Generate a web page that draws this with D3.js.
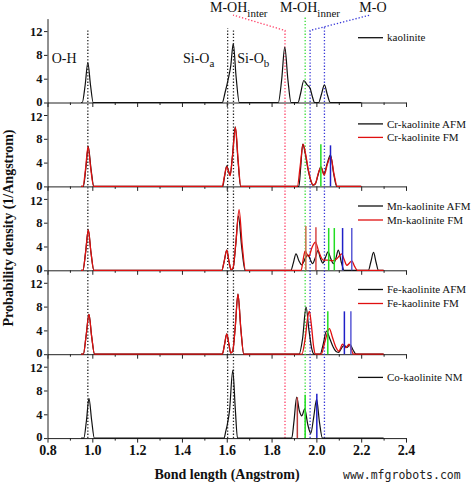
<!DOCTYPE html>
<html><head><meta charset="utf-8">
<script src="https://cdn.jsdelivr.net/npm/d3@7/dist/d3.min.js"></script>
<style>body{margin:0;background:#fff}svg{display:block}</style>
</head><body><svg id="chart" width="472" height="485"></svg>
<script>
// ---------- DATA ----------
const xTickValues = [0.8, 1.0, 1.2, 1.4, 1.6, 1.8, 2.0, 2.2, 2.4];
const xMinorTicks = [0.9, 1.1, 1.3, 1.5, 1.7, 1.9, 2.1, 2.3];
const yTickValues = [0, 4, 8, 12];

const kaolinite = [[0.95,0],[0.955,0],[0.968,2.9],[0.98,6.7],[0.992,2.9],[1.004,0],
 [1.58,0],[1.592,1.6],[1.607,4.0],[1.618,6.2],[1.629,9.9],[1.642,4.2],[1.656,0],
 [1.83,0],[1.845,3.8],[1.859,9.3],[1.873,3.8],[1.887,0],
 [1.918,0],[1.93,1.6],[1.944,3.7],[1.958,3.0],[1.972,2.4],[1.982,1.0],[1.992,0],
 [2.01,0],[2.022,1.3],[2.036,2.95],[2.049,1.3],[2.062,0],[2.2,0]];

const crAFM = [[0.95,0],[0.96,0],[0.971,3],[0.982,6.7],[0.994,3],[1.007,0],
 [1.582,0],[1.59,1.6],[1.600,3.45],[1.608,2.6],[1.615,1.9],[1.625,5.0],[1.638,10.0],[1.650,4.5],[1.662,0],
 [1.922,0],[1.93,3.2],[1.939,7.1],[1.95,5.6],[1.962,3.0],[1.975,1.0],[1.984,0.2],[1.995,0.4],[2.008,2.0],[2.020,3.3],[2.034,2.1],[2.048,3.8],[2.063,5.3],[2.077,2.2],[2.091,0],[2.2,0]];
const crFM = [[0.95,0],[0.958,0],[0.970,3],[0.981,6.7],[0.993,3],[1.006,0],
 [1.58,0],[1.589,1.6],[1.600,3.3],[1.608,2.5],[1.615,1.8],[1.626,5.2],[1.639,9.9],[1.651,4.3],[1.663,0],
 [1.915,0],[1.928,3.5],[1.941,7.1],[1.953,5.2],[1.965,2.6],[1.977,0.8],[1.986,0.2],[1.997,0.6],[2.010,2.4],[2.021,3.2],[2.035,1.9],[2.049,3.7],[2.064,5.0],[2.079,2.0],[2.093,0],[2.2,0]];

const mnAFM = [[0.95,0],[0.958,0],[0.970,3],[0.982,6.8],[0.994,3],[1.007,0],
 [1.578,0],[1.589,1.6],[1.600,3.4],[1.610,1.5],[1.619,0.1],[1.628,0.3],[1.640,4.2],[1.652,9.1],[1.667,3.8],[1.682,0],
 [1.886,0],[1.897,1.2],[1.909,2.75],[1.922,1.6],[1.935,0.9],[1.948,1.8],[1.962,2.6],[1.974,1.7],[1.983,1.1],[1.994,2.0],[2.007,3.3],[2.018,2.0],[2.029,1.2],[2.040,2.1],[2.052,3.1],[2.064,2.0],[2.076,1.1],[2.087,2.0],[2.098,3.4],[2.111,1.4],[2.124,0],
 [2.232,0],[2.243,1.4],[2.255,3.0],[2.266,1.4],[2.277,0],[2.3,0]];
const mnFM = [[0.95,0],[0.958,0],[0.970,3],[0.982,6.8],[0.994,3],[1.007,0],
 [1.578,0],[1.589,1.6],[1.600,3.4],[1.610,1.5],[1.619,0.1],[1.628,0.4],[1.641,4.8],[1.655,10.2],[1.669,4.2],[1.684,0],
 [1.932,0],[1.941,1.8],[1.950,3.25],[1.958,2.7],[1.966,2.3],[1.980,3.8],[1.996,4.75],[2.010,3.2],[2.031,1.7],[2.050,1.7],[2.069,1.6],[2.090,1.9],[2.102,2.4],[2.113,2.75],[2.124,1.8],[2.136,0.85],[2.147,1.2],[2.158,1.6],[2.170,0.7],[2.183,0],[2.3,0]];

const feAFM = [[0.95,0],[0.96,0],[0.972,3],[0.985,6.7],[0.997,3],[1.01,0],
 [1.58,0],[1.59,1.6],[1.600,3.4],[1.610,1.6],[1.618,0.2],[1.627,0.6],[1.638,4.6],[1.650,10.1],[1.663,4.2],[1.676,0],
 [1.923,0],[1.938,2.5],[1.954,7.9],[1.967,4.0],[1.980,0.8],[1.99,0],
 [2.017,0],[2.030,1.6],[2.045,3.9],[2.060,2.6],[2.075,1.2],[2.090,0.4],[2.100,0.3],[2.112,1.0],[2.124,1.5],[2.136,1.1],[2.150,1.6],[2.164,0.7],[2.177,0],[2.3,0]];
const feFM = [[0.95,0],[0.96,0],[0.972,3],[0.985,6.7],[0.997,3],[1.01,0],
 [1.58,0],[1.59,1.6],[1.600,3.4],[1.610,1.6],[1.618,0.2],[1.627,0.6],[1.638,4.6],[1.650,10.1],[1.663,4.2],[1.676,0],
 [1.935,0],[1.950,2.6],[1.962,6.4],[1.969,7.2],[1.978,4.8],[1.988,1.2],[1.996,0],
 [2.022,0],[2.036,1.8],[2.058,4.3],[2.072,2.8],[2.088,1.1],[2.100,0.5],[2.108,1.0],[2.116,1.7],[2.131,1.1],[2.146,1.7],[2.156,0.8],[2.165,0],[2.3,0]];

const coNM = [[0.95,0],[0.962,0],[0.974,3],[0.985,6.7],[0.997,3],[1.009,0],
 [1.588,0],[1.596,1.2],[1.602,2.2],[1.612,4.5],[1.627,11.4],[1.638,5],[1.648,0],
 [1.890,0],[1.900,2.8],[1.912,6.9],[1.924,4.6],[1.935,3.75],[1.948,4.9],[1.962,2.2],[1.975,0.8],[1.988,3.5],[2.001,6.5],[2.014,2.6],[2.027,0],[2.3,0]];

// stick markers: [bond length, height, kind]
const sticksCr = [[2.020,7.1,"g"],[2.063,6.9,"b"]];
const sticksMn = [[1.953,7.45,"o"],[1.998,7.25,"r"],[2.055,7.1,"g"],[2.080,7.1,"g"],[2.117,7.1,"b"],[2.158,7.1,"p"]];
const sticksFe = [[2.051,7.2,"g"],[2.125,7.2,"b"],[2.154,7.2,"p"]];
const sticksCo = [[1.915,6.85,"d"],[1.950,7.3,"g"],[2.002,7.45,"b"]];

const legendAFM = ["kaolinite","Cr-kaolinite AFM","Mn-kaolinite AFM","Fe-kaolinite AFM","Co-kaolinite NM"];
const legendFM = [null,"Cr-kaolinite FM","Mn-kaolinite FM","Fe-kaolinite FM",null];

// guide lines: [x, top value (panel 1 units), kind, diagonal end x, diagonal end y]
const guides = [[0.98,12.1,"k"],[1.604,12.5,"k"],[1.630,12.1,"k"],
 [1.86,12.1,"r",1.628,14.7],[1.95,14.4,"g"],[1.972,12.1,"b",2.24,14.7],[2.036,12.72,"b"]];

// ---------- LAYOUT / STYLE ----------
const svg = d3.select("#chart");
svg.append("rect").attr("width",472).attr("height",485).attr("fill","#fff");
const X = d3.scaleLinear().domain([0.8,2.4]).range([47.5,406]);
const top0 = 18.6, ph = 83.9;
const blackSeries = [kaolinite, crAFM, mnAFM, feAFM, coNM];
const redSeries = [null, crFM, mnFM, feFM, null];
const stickSets = [[], sticksCr, sticksMn, sticksFe, sticksCo];
const legendOffsets = [[64.8],[62.5,49],[64.3,50.3],[64.7,50.7],[60.7]];
const stickColor = {g:"#22dd22", b:"#1f1fc8", p:"#5a5ad6", o:"#c87048", r:"#d84848", d:"#b83a3a"};
const guideColor = {k:"#222", r:"#ff3f66", g:"#33dd33", b:"#3636d8"};
const serif = "'Liberation Serif','Times New Roman',serif";

const scales = [];
for (let i = 0; i < 5; i++) {
  const base = top0 + (i+1)*ph;
  const Y = d3.scaleLinear().domain([0,14.1]).range([base, base-ph]);
  scales.push(Y);
  const g = svg.append("g");
  // y axis
  const ya = g.append("g").attr("transform",`translate(${X(0.8)},0)`)
    .call(d3.axisLeft(Y).tickValues(yTickValues).tickSize(3.5).tickPadding(1.5).tickSizeOuter(0));
  ya.selectAll("text").attr("font-family",serif).attr("font-weight","bold").attr("font-size",12.5).attr("fill","#111")
    .attr("transform", d => d === 0 ? "translate(0,-1.4)" : (d === 12 && i > 0 ? "translate(0,1.2)" : null));
  ya.selectAll("line,path").attr("stroke","#222");
  // x axis
  const xa = g.append("g").attr("transform",`translate(0,${base})`)
    .call(d3.axisBottom(X).tickValues(xTickValues).tickSize(4.5).tickPadding(2.8).tickSizeOuter(0).tickFormat(d3.format(".1f")));
  xa.selectAll("line,path").attr("stroke","#222");
  if (i < 4) xa.selectAll("text").remove();
  else xa.selectAll("text").attr("font-family",serif).attr("font-weight","bold").attr("font-size",14).attr("fill","#111");
  g.append("g").attr("transform",`translate(0,${base})`)
    .call(d3.axisBottom(X).tickValues(xMinorTicks).tickSize(2.5).tickFormat(""))
    .call(s=>{s.select(".domain").remove(); s.selectAll("line").attr("stroke","#222");});
}

// guide dotted lines (behind curves)
const p1 = scales[0], bottomY = top0 + 5*ph;
guides.forEach(gd => {
  const pts = [[X(gd[0]), bottomY],[X(gd[0]), p1(gd[1])]];
  if (gd.length > 3) pts.push([X(gd[3]), p1(gd[4])]);
  svg.append("path").attr("d", d3.line()(pts)).attr("fill","none")
    .attr("stroke", guideColor[gd[2]]).attr("stroke-width",1.3).attr("stroke-dasharray","1.3,1.9");
});

for (let i = 0; i < 5; i++) {
  const Y = scales[i];
  const line = d3.line().x(d=>X(d[0])).y(d=>Y(d[1])).curve(d3.curveMonotoneX);
  svg.append("path").datum(blackSeries[i]).attr("d",line).attr("fill","none").attr("stroke","#111").attr("stroke-width",1.2);
  if (redSeries[i]) svg.append("path").datum(redSeries[i]).attr("d",line).attr("fill","none").attr("stroke","#e01010").attr("stroke-width",1.3);
  svg.selectAll(null).data(stickSets[i]).enter().append("line")
    .attr("x1",d=>X(d[0])).attr("x2",d=>X(d[0])).attr("y1",Y(0)).attr("y2",d=>Y(d[1]))
    .attr("stroke",d=>stickColor[d[2]]).attr("stroke-width",1.5);
  // legend
  const base = Y(0);
  const labels = [legendAFM[i], legendFM[i]].filter(Boolean);
  labels.forEach((lab, j) => {
    const ly = base - legendOffsets[i][j];
    svg.append("line").attr("x1",358).attr("x2",383).attr("y1",ly).attr("y2",ly)
      .attr("stroke", j===0 ? "#111" : "#e01010").attr("stroke-width",1.3);
    svg.append("text").attr("x",387).attr("y",ly+3.6).text(lab)
      .attr("font-family",serif).attr("font-size",11).attr("fill","#111");
  });
}

// annotations
function label(x, y, main, sub, subDy) {
  const t = svg.append("text").attr("x",x).attr("y",y).attr("font-family",serif).attr("font-size",14).attr("fill","#111");
  t.append("tspan").text(main);
  if (sub) t.append("tspan").attr("font-size",11).attr("dy",subDy).text(sub);
}
label(51.7, 62.7, "O-H");
label(183, 62.7, "Si-O", "a", 4);
label(237.3, 62.7, "Si-O", "b", 4);
label(210, 11.8, "M-OH", "inter", 5);
label(280, 11.8, "M-OH", "inner", 5);
label(359.3, 11.8, "M-O");

// axis titles
svg.append("text").attr("transform","translate(12.5,228) rotate(-90)").attr("text-anchor","middle")
  .attr("font-family",serif).attr("font-weight","bold").attr("font-size",14).attr("fill","#111")
  .text("Probability density (1/Angstrom)");
svg.append("text").attr("x",227).attr("y",479).attr("text-anchor","middle")
  .attr("font-family",serif).attr("font-weight","bold").attr("font-size",14).attr("fill","#111")
  .text("Bond length (Angstrom)");
svg.append("text").attr("x",343).attr("y",479).attr("font-family","'DejaVu Sans Mono',monospace")
  .attr("font-size",11.5).attr("fill","#222").text("www.mfgrobots.com");
</script></body></html>
